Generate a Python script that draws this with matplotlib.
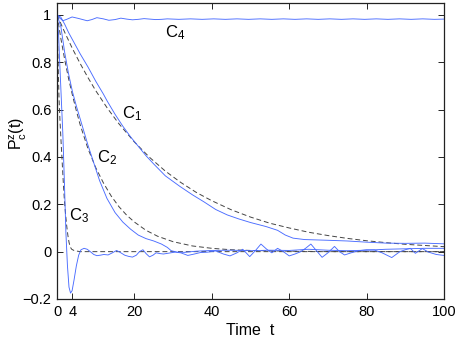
import numpy as np
import matplotlib
matplotlib.use("Agg")
from matplotlib import pyplot as plt

plt.rcParams['font.family'] = ['Liberation Sans', 'DejaVu Sans']
plt.rcParams['mathtext.fontset'] = 'custom'
plt.rcParams['mathtext.rm'] = 'Liberation Sans'
plt.rcParams['mathtext.it'] = 'Liberation Sans:italic'

# solid curves (simulation)
t_c1 = [0, 1, 2, 3, 4, 5, 6, 8, 10, 12, 13, 15, 17, 19, 21, 23, 25, 28, 31.8, 35, 38,
        41, 44, 47, 50, 54, 57, 59, 61, 64, 70, 75, 80, 85, 90, 95, 100]
c1 = [1.0, 0.99, 0.96, 0.925, 0.895, 0.865, 0.835, 0.78, 0.72, 0.665, 0.635, 0.58, 0.53,
      0.485, 0.445, 0.405, 0.37, 0.32, 0.275, 0.24, 0.21, 0.178, 0.155, 0.138, 0.123,
      0.106, 0.09, 0.07, 0.057, 0.051, 0.048, 0.045, 0.04, 0.036, 0.035, 0.036, 0.033]

t_c2 = [0, 1, 2, 3, 4, 5, 6, 8, 9.5, 11, 12.9, 15, 17, 19, 21, 23, 25, 27, 28.5, 29.5,
        31, 33, 36, 40, 45, 50, 55, 60, 65, 70, 75, 80, 85, 90, 95, 100]
c2 = [1.0, 0.95, 0.84, 0.75, 0.675, 0.615, 0.56, 0.45, 0.375, 0.3, 0.225, 0.165, 0.125,
      0.095, 0.07, 0.055, 0.045, 0.032, 0.018, 0.004, -0.002, -0.003, 0.002, 0.005, 0.006,
      0.004, 0.006, 0.005, 0.01, 0.006, 0.004, 0.006, 0.01, 0.012, 0.014, 0.014]

t_c3 = [0, 0.4, 0.7, 1.1, 1.5, 1.9, 2.3, 2.7, 3.1, 3.5, 3.9, 4.4, 5, 5.6, 6.2, 7, 7.8,
        8.6, 9.5, 10.3, 11.2, 12.1, 13.2, 14.3, 15.4, 16.4, 17.5, 18.5, 19.5, 20.5, 21.3,
        22.2, 23, 23.9, 24.8, 25.6, 26.5, 27.5, 29, 30.5, 32, 33.8, 35.5, 37, 39, 41, 43,
        44.7, 46.5, 48, 49.8, 51.3, 52.7, 54.2, 55.5, 57, 58.5, 60, 61.5, 63, 64.3, 65.6,
        67, 68.5, 70, 71.7, 73, 74.3, 76, 78, 80, 82, 84, 86.5, 88.6, 90, 91.3, 92.6, 94.4,
        96, 98, 100]
c3 = [1.0, 0.92, 0.8, 0.65, 0.5, 0.3, 0.08, -0.06, -0.15, -0.175, -0.165, -0.12, -0.06,
      -0.015, 0.008, 0.014, 0.01, 0.0, -0.012, -0.017, -0.015, -0.012, -0.014, -0.005,
      0.005, -0.004, -0.015, -0.02, -0.023, -0.015, 0.0, 0.008, -0.008, -0.022, -0.015,
      -0.005, -0.008, -0.01, -0.006, -0.002, -0.005, -0.016, -0.01, -0.004, -0.002, 0.003,
      -0.01, -0.018, -0.005, 0.01, -0.021, 0.005, 0.032, 0.01, -0.005, 0.014, 0.0, -0.018,
      -0.01, 0.0, 0.015, 0.032, 0.005, -0.024, -0.005, 0.022, 0.0, -0.014, -0.005, 0.004,
      0.008, 0.007, -0.005, -0.025, 0.0, 0.008, 0.014, -0.007, 0.013, -0.002, -0.012, -0.016]

t_c4 = [0, 0.7, 1.5, 2.5, 3.9, 5.5, 7.8, 9, 10.3, 12, 13.4, 15, 16.5, 18, 19.5, 21, 22.5,
        24, 25.5, 27, 28.5, 31.5, 34.5, 37.5, 40.5, 43.5, 46.5, 49.5, 52.5, 55.5, 58.5,
        61.5, 64.5, 67.5, 70.5, 73.5, 76.5, 79.5, 82.5, 85.5, 88.5, 91.5, 94.5, 97.5, 100]
c4 = [1.0, 0.987, 0.975, 0.981, 0.991, 0.985, 0.975, 0.98, 0.988, 0.983, 0.977, 0.98,
      0.986, 0.982, 0.979, 0.981, 0.984, 0.982, 0.98, 0.981, 0.983, 0.981, 0.983, 0.981,
      0.983, 0.981, 0.983, 0.981, 0.983, 0.981, 0.983, 0.981, 0.983, 0.981, 0.983, 0.981,
      0.983, 0.981, 0.983, 0.981, 0.983, 0.981, 0.983, 0.981, 0.982]

# dashed curves (fits)
t_f1 = [0, 2, 4, 6, 8, 10, 13, 16, 20, 24, 28, 32, 36, 40, 45, 50, 55, 60, 65, 70, 75,
        80, 85, 90, 95, 100]
f1 = [1.0, 0.926, 0.857, 0.794, 0.735, 0.68, 0.606, 0.54, 0.463, 0.397, 0.34, 0.292,
      0.25, 0.215, 0.177, 0.146, 0.12, 0.1, 0.082, 0.068, 0.056, 0.046, 0.038, 0.031,
      0.026, 0.021]

t_f2 = [0, 1, 2, 3, 4, 5, 6, 8, 10, 12, 14, 16, 18, 20, 23, 26, 30, 35, 40, 45, 50, 60,
        70, 100]
f2 = [1.0, 0.9, 0.81, 0.73, 0.66, 0.595, 0.535, 0.435, 0.355, 0.29, 0.235, 0.19, 0.154,
      0.125, 0.09, 0.065, 0.042, 0.024, 0.014, 0.008, 0.005, 0.002, 0.0, 0.0]

t_f3 = [0, 0.25, 0.5, 0.75, 1.0, 1.3, 1.6, 1.9, 2.2, 2.5, 2.8, 3.1, 3.4, 3.8, 4.5, 6, 100]
f3 = [1.0, 0.82, 0.66, 0.56, 0.48, 0.39, 0.3, 0.22, 0.16, 0.11, 0.07, 0.04, 0.02, 0.01,
      0.004, 0.0, 0.0]

blue = '#4a6cff'
fig = plt.figure(figsize=(4.58, 3.39), dpi=100)
ax = fig.add_axes([57 / 458, 40 / 339, 387 / 458, 296 / 339])

for tt, yy in [(t_f1, f1), (t_f2, f2), (t_f3, f3)]:
    ax.plot(tt, yy, '--', color='#444444', lw=0.7, dashes=(5, 3))
for tt, yy in [(t_c1, c1), (t_c2, c2), (t_c3, c3), (t_c4, c4)]:
    ax.plot(tt, yy, '-', color=blue, lw=0.65)

ax.text(16.8, 0.565, r'$\mathrm{C}_1$', fontsize=12)
ax.text(10.3, 0.379, r'$\mathrm{C}_2$', fontsize=12)
ax.text(3.1, 0.134, r'$\mathrm{C}_3$', fontsize=12)
ax.text(27.9, 0.906, r'$\mathrm{C}_4$', fontsize=12)

ax.set_xlim(0, 100)
ax.set_ylim(-0.2, 1.05)
ax.set_xticks([0, 4, 20, 40, 60, 80, 100])
ax.set_yticks([-0.2, 0, 0.2, 0.4, 0.6, 0.8, 1])
ax.set_yticklabels(['\u22120.2', '0', '0.2', '0.4', '0.6', '0.8', '1'])
ax.tick_params(direction='in', top=True, right=True, length=4, width=0.6,
               labelsize=10.5, pad=4)
for s in ax.spines.values():
    s.set_linewidth(0.9)
    s.set_color('#222222')

ax.set_xlabel('Time  t', fontsize=11.5, labelpad=3)
ax.set_ylabel(r'$\mathrm{P}_\mathrm{c}^\mathrm{z}\mathrm{(t)}$', fontsize=11.5)
ax.yaxis.set_label_coords(-0.073, 0.56)

fig.savefig('out.png', dpi=100)
